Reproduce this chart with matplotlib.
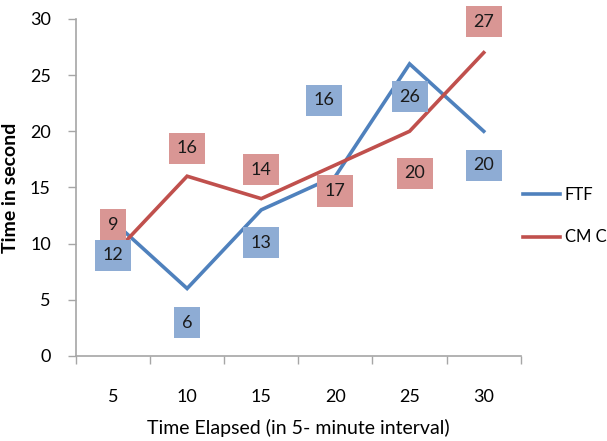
import matplotlib
matplotlib.use("Agg")
import matplotlib.pyplot as plt
from matplotlib.ticker import FixedLocator, NullFormatter, FixedFormatter

plt.rcParams['font.family'] = ['Lato', 'DejaVu Sans']

# ===================== DATA =====================
intervals = ["5", "10", "15", "20", "25", "30"]
ftf = [12, 6, 13, 16, 26, 20]
cmc = [9, 16, 14, 17, 20, 27]

# label offsets in pixels (dx, dy)
ftf_off = [(0, -34), (0, -34), (0, -33), (-11, 76), (0, -33), (0, -34)]
cmc_off = [(0, 30), (0, 28), (0, 29), (0, -26), (5, -42), (0, 31)]

BLUE = "#4F81BD"
RED = "#C0504D"
BLUE_BOX = "#8EACD4"
RED_BOX = "#D99694"
GREY = "#A6A6A6"

fig = plt.figure(figsize=(6.07, 4.41), dpi=100)
ax = fig.add_axes([0.125, 0.193, 0.733, 0.764])

x = list(range(len(intervals)))
ax.plot(x, ftf, color=BLUE, lw=2.6, label="FTF", solid_joinstyle="miter")
ax.plot(x, cmc, color=RED, lw=2.6, label="CM C", solid_joinstyle="miter")

def add_labels(vals, offs, box):
    for i, (v, (dx, dy)) in enumerate(zip(vals, offs)):
        ax.annotate(str(v), (i, v), xytext=(dx, dy), textcoords="offset pixels",
                    ha="center", va="center", fontsize=13, color="#1a1a1a",
                    bbox=dict(boxstyle="square,pad=0.42", fc=box, ec="none"))

add_labels(cmc, cmc_off, RED_BOX)
add_labels(ftf, ftf_off, BLUE_BOX)

ax.set_xlim(-0.5, len(intervals) - 0.5)
ax.set_ylim(0, 30)
ax.set_yticks(range(0, 31, 5))

# category axis: ticks between categories, labels at centres
ax.xaxis.set_major_locator(FixedLocator([i - 0.5 for i in range(len(intervals) + 1)]))
ax.xaxis.set_major_formatter(NullFormatter())
ax.xaxis.set_minor_locator(FixedLocator(x))
ax.xaxis.set_minor_formatter(FixedFormatter(intervals))
ax.tick_params(axis="x", which="major", length=6, width=1, color=GREY, direction="out")
ax.tick_params(axis="x", which="minor", length=0, pad=24, labelsize=13)
ax.tick_params(axis="y", length=6, width=1, color=GREY, pad=12, labelsize=13)

for s in ["top", "right"]:
    ax.spines[s].set_visible(False)
for s in ["left", "bottom"]:
    ax.spines[s].set_color(GREY)
    ax.spines[s].set_linewidth(1.2)

ax.set_ylabel("Time in second", fontsize=14, fontweight="bold", labelpad=8)
ax.set_xlabel("Time Elapsed (in 5- minute interval)", fontsize=14, labelpad=10)

fig.legend(loc="center left", bbox_to_anchor=(0.862, 0.51), frameon=False,
           fontsize=12, handlelength=2.2, handletextpad=0.3, labelspacing=1.6,
           borderpad=0, borderaxespad=0)

fig.savefig("out.png", dpi=100)
